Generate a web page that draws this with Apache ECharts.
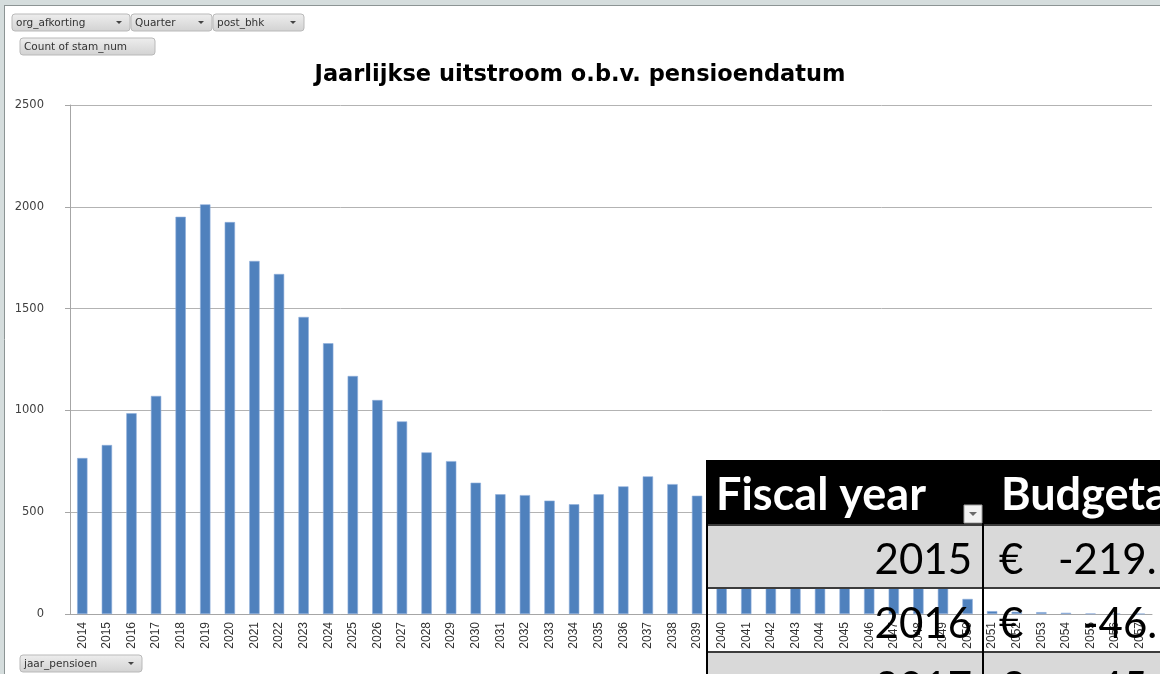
<!DOCTYPE html>
<html>
<head>
<meta charset="utf-8">
<title>Jaarlijkse uitstroom o.b.v. pensioendatum</title>
<script src="https://cdn.jsdelivr.net/npm/echarts/dist/echarts.min.js"></script>
<style>
  html, body { margin: 0; padding: 0; background: #fff; }
  #chart { width: 1160px; height: 674px; }
</style>
</head>
<body>
<div id="chart"></div>
<script>
// jaar_pensioen categories
const years = [
  '2014', '2015', '2016', '2017', '2018', '2019', '2020', '2021', '2022', '2023',
  '2024', '2025', '2026', '2027', '2028', '2029', '2030', '2031', '2032', '2033',
  '2034', '2035', '2036', '2037', '2038', '2039', '2040', '2041', '2042', '2043',
  '2044', '2045', '2046', '2047', '2048', '2049', '2050', '2051', '2052', '2053',
  '2054', '2055', '2056', '2057'
]
// Count of stam_num (2040-2049 sit under the pasted table, estimated)
const counts = [
  766, 830, 986, 1071, 1951, 2012, 1925, 1734, 1670, 1459,
  1330, 1169, 1051, 946, 794, 751, 645, 588, 584, 557,
  539, 588, 627, 676, 638, 581, 540, 500, 465, 430,
  390, 340, 290, 240, 190, 150, 74, 14, 11, 9,
  6, 2, 1, 1
]
const yTicks = [0, 500, 1000, 1500, 2000, 2500]

// pivot field buttons
const filterFields = ['org_afkorting', 'Quarter', 'post_bhk']
const valueField = 'Count of stam_num'
const axisField = 'jaar_pensioen'

// the table pasted over the chart
const tableHeader = ['Fiscal year', 'Budgeta']
const tableYears = ['2015', '2016', '2017']
const tableAmounts = ['-219.', '-46.', '-45.']

const chart = echarts.init(document.getElementById('chart'))

function fieldButton(label, x, y, w, arrow) {
  const kids = [{
    type: 'rect',
    shape: {x: 0, y: 0, width: w, height: 17, r: 3},
    style: {
      fill: new echarts.graphic.LinearGradient(0, 0, 0, 1, [
        {offset: 0, color: '#eeeeee'}, {offset: 1, color: '#d2d2d2'}
      ]),
      stroke: '#b9b9b9', lineWidth: 1
    }
  }, {
    type: 'text',
    style: {
      text: label, x: 4, y: 9, verticalAlign: 'middle',
      font: '10.5px "DejaVu Sans"', fill: '#333'
    }
  }]
  if (arrow) {
    kids.push({
      type: 'polygon',
      shape: {points: [[w - 14, 7], [w - 8, 7], [w - 11, 10]]},
      style: {fill: '#444'}
    })
  }
  return {type: 'group', x: x, y: y, z: 50, children: kids}
}

const buttonX = [12, 131, 213]
const buttonW = [118, 81, 91]
const graphics = []

// window frame
graphics.push({type: 'rect', shape: {x: 0, y: 0, width: 1160, height: 5}, style: {fill: '#d5dddd'}, z: 40})
graphics.push({type: 'rect', shape: {x: 0, y: 0, width: 4, height: 674}, style: {fill: '#d5dddd'}, z: 40})
graphics.push({type: 'line', shape: {x1: 4.5, y1: 5, x2: 4.5, y2: 674}, style: {stroke: '#8c9494', lineWidth: 1}, z: 40})
graphics.push({type: 'line', shape: {x1: 4, y1: 5.5, x2: 1160, y2: 5.5}, style: {stroke: '#8c9494', lineWidth: 1}, z: 40})

filterFields.forEach((f, i) => graphics.push(fieldButton(f, buttonX[i], 14, buttonW[i], true)))
graphics.push(fieldButton(valueField, 20, 38, 135, false))
graphics.push(fieldButton(axisField, 20, 655, 122, true))

// pasted table
const T = {x: 707, right: 1160, col: 983, rows: [460, 525, 588, 652]}
const tw = T.right - T.x
graphics.push({type: 'rect', z: 60, shape: {x: T.x, y: T.rows[0], width: tw, height: T.rows[1] - T.rows[0]}, style: {fill: '#000'}})
graphics.push({type: 'rect', z: 60, shape: {x: T.x, y: T.rows[1], width: tw, height: T.rows[2] - T.rows[1]}, style: {fill: '#d9d9d9'}})
graphics.push({type: 'rect', z: 60, shape: {x: T.x, y: T.rows[3], width: tw, height: 674 - T.rows[3]}, style: {fill: '#d9d9d9'}})
T.rows.slice(1).forEach(ry => {
  graphics.push({type: 'line', z: 61, shape: {x1: T.x, y1: ry, x2: T.right, y2: ry}, style: {stroke: '#3c3c3c', lineWidth: 2}})
})
graphics.push({type: 'line', z: 62, shape: {x1: T.x, y1: T.rows[0], x2: T.x, y2: 674}, style: {stroke: '#000', lineWidth: 2}})
graphics.push({type: 'line', z: 62, shape: {x1: T.col, y1: T.rows[0], x2: T.col, y2: 674}, style: {stroke: '#000', lineWidth: 2}})
// filter dropdown in header
graphics.push({type: 'rect', z: 63, shape: {x: 964, y: 505, width: 18, height: 18}, style: {fill: '#f2f2f2', stroke: '#a0a0a0', lineWidth: 1}})
graphics.push({type: 'polygon', z: 64, shape: {points: [[969, 512], [977, 512], [973, 516]]}, style: {fill: '#6a6a6a'}})

graphics.push({type: 'text', z: 63, style: {text: tableHeader[0], x: 716, y: 495, verticalAlign: 'middle', font: 'bold 45px Lato', fill: '#fff'}})
graphics.push({type: 'text', z: 63, style: {text: tableHeader[1], x: 1001, y: 495, verticalAlign: 'middle', font: 'bold 45px Lato', fill: '#fff'}})
const rowBase = [560, 624, 688]
const amountX = [1058, 1083, 1083]
tableYears.forEach((yr, i) => {
  graphics.push({type: 'text', z: 63, style: {text: yr, x: 972, y: rowBase[i], align: 'right', verticalAlign: 'middle', font: '42px Lato', fill: '#000'}})
  graphics.push({type: 'text', z: 63, style: {text: '€', x: 999, y: rowBase[i], verticalAlign: 'middle', font: '42px Lato', fill: '#000'}})
  graphics.push({type: 'text', z: 63, style: {text: tableAmounts[i], x: amountX[i], y: rowBase[i], verticalAlign: 'middle', font: '42px Lato', fill: '#000'}})
})

const option = {
  animation: false,
  backgroundColor: '#fff',
  title: {
    text: 'Jaarlijkse uitstroom o.b.v. pensioendatum',
    left: 'center',
    top: 59,
    textStyle: {fontFamily: 'DejaVu Sans', fontWeight: 'bold', fontSize: 22.5, color: '#000'}
  },
  grid: {left: 70, right: 8, top: 105, bottom: 60, containLabel: false},
  xAxis: {
    type: 'category',
    data: years,
    axisLine: {lineStyle: {color: '#a6a6a6'}},
    axisTick: {length: 5, lineStyle: {color: '#a6a6a6'}},
    axisLabel: {
      interval: 0, rotate: 90, margin: 8,
      fontFamily: 'Liberation Sans', fontSize: 12, color: '#333'
    }
  },
  yAxis: {
    type: 'value',
    min: yTicks[0],
    max: yTicks[yTicks.length - 1],
    interval: yTicks[1] - yTicks[0],
    axisLine: {show: true, lineStyle: {color: '#a6a6a6'}},
    axisTick: {show: true, length: 5, lineStyle: {color: '#a6a6a6'}},
    splitLine: {lineStyle: {color: '#b3b3b3'}},
    axisLabel: {
      margin: 26, fontFamily: 'DejaVu Sans', fontSize: 11.5, color: '#404040',
      formatter: v => String(v)
    }
  },
  series: [{
    name: valueField,
    type: 'bar',
    data: counts,
    barWidth: '42%',
    itemStyle: {color: '#4f81bd', borderColor: '#8eaedb', borderWidth: 0.6}
  }],
  graphic: graphics
}

chart.setOption(option)
</script>
</body>
</html>
